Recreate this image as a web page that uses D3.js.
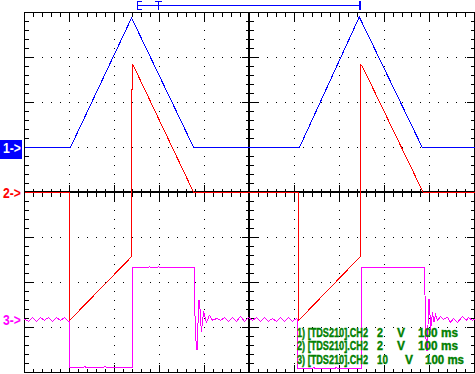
<!DOCTYPE html>
<html>
<head>
<meta charset="utf-8">
<script src="https://cdn.jsdelivr.net/npm/d3@7"></script>
<style>
  body { margin: 0; background: #fff; }
  svg { display: block; }
</style>
</head>
<body>
<div id="scope"></div>
<script>
// channel settings
var channelLabels = ["1->", "2->", "3->"];
var sourceNames = ["[TDS210].CH2", "[TDS210].CH2", "[TDS210].CH2"];
var voltsPerDiv = [2, 2, 10];
var msPerDiv = [100, 100, 100];
var groundDiv = [1, 0, -2.82];
var channelColors = ["#0000ff", "#ff0000", "#ff00ff"];

// traces as [time ms, volts]
var ch1 = [[0, 0], [102, 0], [238, 5.76], [376, 0], [611, 0], [744, 5.8], [884, 0], [1000, 0]];

var ch2 = [[0, 0], [100, 0], [100, -5.69], [238.5, -2.84], [239, 5.69], [242, 5.64],
  [376, 0], [609, 0], [609, -5.69], [746.5, -2.84], [747, 5.69], [750, 5.64], [886, 0], [1000, 0]];

var ch3 = [[0, 0], [8.9, -0.44], [17.8, 0.44], [26.7, -0.44], [35.6, 0.44], [44.4, -0.22],
  [53.3, 0.44], [62.2, -0.44], [71.1, 0.44], [80, -0.22], [88.9, 0.44], [97.8, -0.44],
  [100, -0.44], [100, -10.67], [131, -10.67], [133, -10.44], [137, -10.67], [175, -10.67],
  [178, -10.44], [182, -10.67], [240, -10.67], [240, 11.56], [276, 11.56], [277, 11.8],
  [280, 11.56], [296, 11.56], [297, 11.8], [300, 11.56], [378, 11.56], [379, -0.44],
  [382, -6.67], [384, -6.67], [387, 4.22], [389, 4.22], [393, -2.89], [398, 1.78],
  [404, -0.67], [411, 0.89], [418, -0.22], [427, 0.22],
  [435.6, -0.22], [444.4, 0.44], [453.3, -0.44], [462.2, 0.44], [471.1, -0.44], [480, 0.67],
  [488.9, -0.44], [497.8, 0.44], [506.7, -0.22], [515.6, 0.44], [524.4, -0.44], [533.3, 0.44],
  [542.2, -0.44], [551.1, 0.22], [560, -0.44], [568.9, 0.44], [577.8, -0.44], [586.7, 0.44],
  [595.6, -0.44], [604.4, 0.22], [606.7, 0], [606.7, -10.89], [640, -10.89], [642, -10.67],
  [646, -10.89], [690, -10.89], [692, -10.67], [696, -10.89], [748.9, -10.89], [748.9, 11.56],
  [888.9, 11.56], [891.1, -0.44], [893, -6.89], [895.6, -6.89], [897.8, 4.44], [900, 4.44],
  [902.2, -2.44], [906.7, 1.56], [910, -0.67], [913.3, 1.11], [917.8, -0.22], [924.4, 0.67],
  [931.1, 0], [940, 0.44], [946.7, -0.67], [953.3, 0.22], [962.2, -0.67], [973.3, 0.67],
  [982.2, -0.22], [986.7, 0.44], [995.6, -0.22], [1000, 0]];

var traces = [ch1, ch2, ch3];

// screen layout
var svgWidth = 475;
var svgHeight = 374;
var plotLeft = 24, plotRight = 474, plotTop = 12, plotBottom = 372;
var divsX = 10, divsY = 8, minorPerDiv = 5;

var svg = d3.select("#scope")
  .append("svg")
  .attr("width", svgWidth)
  .attr("height", svgHeight);

var g = svg.append("g")
  .attr("transform", "translate(0.5,0.5)")
  .attr("shape-rendering", "crispEdges");

var xDiv = d3.scaleLinear().domain([0, divsX]).range([plotLeft, plotRight]);
var yDiv = d3.scaleLinear().domain([-divsY / 2, divsY / 2]).range([plotBottom, plotTop]);
var xTime = d3.scaleLinear().domain([0, divsX * msPerDiv[0]]).range([plotLeft, plotRight]);

function yChannel(i) {
  return function(v) { return yDiv(groundDiv[i] + v / voltsPerDiv[i]); };
}

function isMajor(d) {
  return Math.abs(d - Math.round(d)) < 1e-6;
}

// squeeze a text horizontally so it spans the given width (the scope font is narrow)
function fitText(parent, str, x, y, width) {
  var t = parent.append("text").attr("x", 0).attr("y", 0).text(str);
  var natural = t.node().getComputedTextLength();
  t.attr("transform", `translate(${x},${y}) scale(${width / natural},1)`);
  return t;
}

// graticule frame
g.append("rect")
  .attr("x", plotLeft).attr("y", plotTop)
  .attr("width", plotRight - plotLeft).attr("height", plotBottom - plotTop)
  .attr("fill", "none").attr("stroke", "#000");

var minorX = d3.range(1, divsX * minorPerDiv).map(d => d / minorPerDiv);
var minorY = d3.range(1, divsY * minorPerDiv).map(d => d / minorPerDiv - divsY / 2);

// border ticks
var ticks = g.append("g").attr("stroke", "#000");
minorX.forEach(function(d) {
  var len = isMajor(d) ? 8 : 4;
  ticks.append("line").attr("x1", xDiv(d)).attr("x2", xDiv(d)).attr("y1", plotTop).attr("y2", plotTop + len);
  ticks.append("line").attr("x1", xDiv(d)).attr("x2", xDiv(d)).attr("y1", plotBottom).attr("y2", plotBottom - len);
});
minorY.forEach(function(d) {
  var len = isMajor(d) ? 8 : 4;
  ticks.append("line").attr("x1", plotLeft).attr("x2", plotLeft + len).attr("y1", yDiv(d)).attr("y2", yDiv(d));
  ticks.append("line").attr("x1", plotRight).attr("x2", plotRight - len).attr("y1", yDiv(d)).attr("y2", yDiv(d));
});

// dotted major grid
var dots = g.append("g").attr("fill", "#000");
d3.range(1, divsX).filter(k => k !== divsX / 2).forEach(function(k) {
  minorY.forEach(function(d) {
    dots.append("rect").attr("x", xDiv(k) - 0.5).attr("y", yDiv(d) - 0.5).attr("width", 1).attr("height", 1);
  });
});
d3.range(-divsY / 2 + 1, divsY / 2).filter(k => k !== 0).forEach(function(k) {
  minorX.forEach(function(d) {
    dots.append("rect").attr("x", xDiv(d) - 0.5).attr("y", yDiv(k) - 0.5).attr("width", 1).attr("height", 1);
  });
});

// centre cross axes
var axes = g.append("g").attr("stroke", "#000");
axes.append("line").attr("x1", xDiv(divsX / 2) - 0.5).attr("x2", xDiv(divsX / 2) - 0.5)
  .attr("y1", plotTop).attr("y2", plotBottom).attr("stroke-width", 2);
axes.append("line").attr("x1", plotLeft).attr("x2", plotRight)
  .attr("y1", yDiv(0) - 0.5).attr("y2", yDiv(0) - 0.5).attr("stroke-width", 2);
minorX.forEach(function(d) {
  var h = isMajor(d) ? 8 : 4;
  axes.append("line").attr("x1", xDiv(d)).attr("x2", xDiv(d)).attr("y1", yDiv(0) - h).attr("y2", yDiv(0) + h);
});
minorY.forEach(function(d) {
  var h = isMajor(d) ? 8 : 4;
  axes.append("line").attr("x1", xDiv(divsX / 2) - h).attr("x2", xDiv(divsX / 2) + h).attr("y1", yDiv(d)).attr("y2", yDiv(d));
});

// record window indicator at top
var win = svg.append("g").attr("stroke", channelColors[0]).attr("fill", "none").attr("shape-rendering", "crispEdges");
win.append("path").attr("d", "M141.5,1.5H137.5V9.5H141.5");
win.append("line").attr("x1", 137.5).attr("x2", 360).attr("y1", 5.5).attr("y2", 5.5);
win.append("line").attr("x1", 360).attr("x2", 360).attr("y1", 1).attr("y2", 10).attr("stroke-width", 2);
win.append("line").attr("x1", 155).attr("x2", 162).attr("y1", 1.5).attr("y2", 1.5);
win.append("line").attr("x1", 158.5).attr("x2", 158.5).attr("y1", 1).attr("y2", 10);

// traces
traces.forEach(function(data, i) {
  var line = d3.line()
    .x(d => xTime(d[0]))
    .y(d => yChannel(i)(d[1]));
  g.append("path")
    .datum(data)
    .attr("d", line)
    .attr("fill", "none")
    .attr("stroke", channelColors[i])
    .attr("stroke-width", 1);
});

// channel ground markers
var markers = svg.append("g")
  .style("font-family", "Liberation Sans, Arial, sans-serif")
  .style("font-size", "14px")
  .style("font-weight", "bold");
channelLabels.forEach(function(label, i) {
  var y0 = yChannel(i)(0);
  if (i === 0) {
    markers.append("rect").attr("x", 0).attr("y", y0 - 7).attr("width", 22).attr("height", 19)
      .attr("fill", channelColors[0]);
  }
  fitText(markers, label, 3, y0 + 6, 18)
    .style("fill", i === 0 ? "#fff" : channelColors[i]);
});

// channel readout
var readout = svg.append("g")
  .style("font-family", "Liberation Sans, Arial, sans-serif")
  .style("font-size", "12px")
  .style("font-weight", "bold")
  .style("fill", "#008000")
  .style("stroke", "#008000")
  .style("stroke-width", "0.35px");
var baselines = [337, 350, 364];
sourceNames.forEach(function(name, i) {
  var wide = voltsPerDiv[i] >= 10;
  fitText(readout, (i + 1) + ") " + name, 297, baselines[i], 71);
  fitText(readout, String(voltsPerDiv[i]), 377, baselines[i], wide ? 11 : 6);
  fitText(readout, "V", wide ? 405 : 397, baselines[i], 8);
  fitText(readout, msPerDiv[i] + " ms", wide ? 425 : 418, baselines[i], wide ? 39 : 40);
});
</script>
</body>
</html>
